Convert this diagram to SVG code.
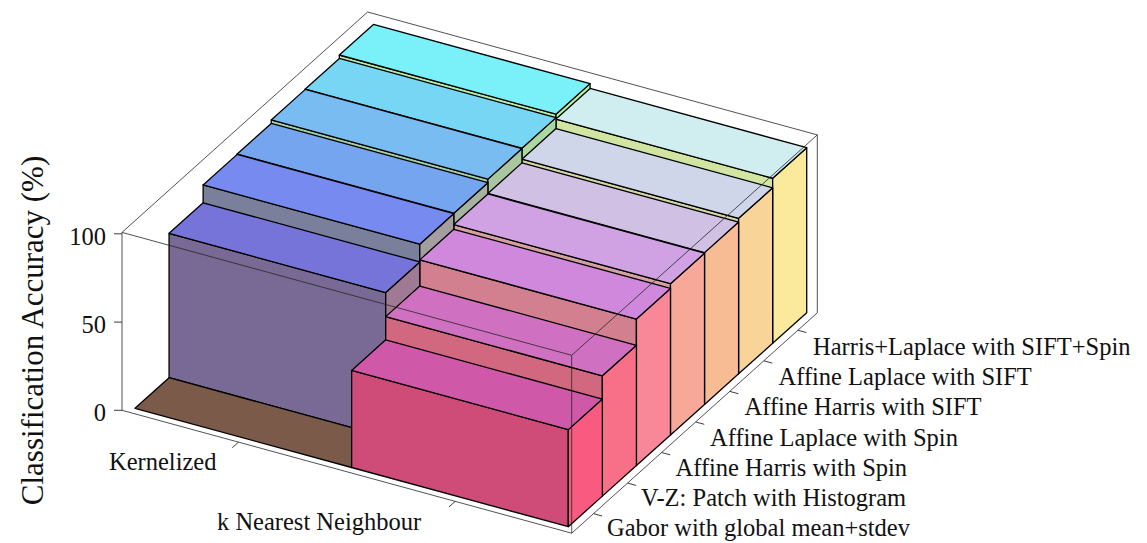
<svg xmlns="http://www.w3.org/2000/svg" width="1147" height="543" viewBox="0 0 1147 543">
<style>
  .f{stroke:#000;stroke-width:1.3;stroke-linejoin:round}
  .bx{fill:none;stroke:#262626;stroke-width:0.8}
  .tk{fill:none;stroke:#262626;stroke-width:0.9}
  .lb{font-family:"Liberation Serif","Times New Roman",serif;font-size:24.5px;fill:#111}
  .tt{font-family:"Liberation Serif","Times New Roman",serif;font-size:31px;fill:#111}
</style>
<rect width="1147" height="543" fill="#fff"/>
<g id="box-back">
  <polyline class="bx" points="122,232.4 367.6,12 817.3,134.9 817.3,312.8"/>
</g>
<g id="bars">
  <g id="bar-k-6">
    <polygon class="f" fill="#b2eeb0" points="339.36,224.88 556.01,284.08 556.01,114.2 339.36,55"/>
    <polygon class="f" fill="#b6f2a6" points="556.01,284.08 590.07,253.51 590.07,83.63 556.01,114.2"/>
    <polygon class="f" fill="#7af1f8" points="339.36,55 556.01,114.2 590.07,83.63 373.42,24.43"/>
  </g>
  <g id="bar-n-6">
    <polygon class="f" fill="#d2e4a2" points="556.01,284.08 772.66,343.28 772.66,178.25 556.01,119.05"/>
    <polygon class="f" fill="#fbea9c" points="772.66,343.28 806.72,312.71 806.72,147.68 772.66,178.25"/>
    <polygon class="f" fill="#d0eef0" points="556.01,119.05 772.66,178.25 806.72,147.68 590.07,88.48"/>
  </g>
  <g id="bar-k-5">
    <polygon class="f" fill="#a6d8ae" points="305.3,255.45 521.95,314.65 521.95,148.21 305.3,89.01"/>
    <polygon class="f" fill="#aad8a2" points="521.95,314.65 556.01,284.08 556.01,117.64 521.95,148.21"/>
    <polygon class="f" fill="#78d6f5" points="305.3,89.01 521.95,148.21 556.01,117.64 339.36,58.44"/>
  </g>
  <g id="bar-n-5">
    <polygon class="f" fill="#d2d6a2" points="521.95,314.65 738.6,373.85 738.6,218.35 521.95,159.15"/>
    <polygon class="f" fill="#f8d498" points="738.6,373.85 772.66,343.28 772.66,187.78 738.6,218.35"/>
    <polygon class="f" fill="#d0d6ea" points="521.95,159.15 738.6,218.35 772.66,187.78 556.01,128.58"/>
  </g>
  <g id="bar-k-4">
    <polygon class="f" fill="#a0d0a8" points="271.24,286.02 487.89,345.22 487.89,179.13 271.24,119.93"/>
    <polygon class="f" fill="#a8c6a0" points="487.89,345.22 521.95,314.65 521.95,148.56 487.89,179.13"/>
    <polygon class="f" fill="#78bcf2" points="271.24,119.93 487.89,179.13 521.95,148.56 305.3,89.36"/>
  </g>
  <g id="bar-n-4">
    <polygon class="f" fill="#d2bca2" points="487.89,345.22 704.54,404.42 704.54,252.63 487.89,193.43"/>
    <polygon class="f" fill="#f8bc94" points="704.54,404.42 738.6,373.85 738.6,222.06 704.54,252.63"/>
    <polygon class="f" fill="#d0c0e4" points="487.89,193.43 704.54,252.63 738.6,222.06 521.95,162.86"/>
  </g>
  <g id="bar-k-3">
    <polygon class="f" fill="#7d9aa6" points="237.18,316.59 453.83,375.79 453.83,213.23 237.18,154.03"/>
    <polygon class="f" fill="#a6b2a0" points="453.83,375.79 487.89,345.22 487.89,182.66 453.83,213.23"/>
    <polygon class="f" fill="#76a5ef" points="237.18,154.03 453.83,213.23 487.89,182.66 271.24,123.46"/>
  </g>
  <g id="bar-n-3">
    <polygon class="f" fill="#d4a0a0" points="453.83,375.79 670.48,434.99 670.48,283.73 453.83,224.53"/>
    <polygon class="f" fill="#f8a898" points="670.48,434.99 704.54,404.42 704.54,253.16 670.48,283.73"/>
    <polygon class="f" fill="#d0a2e4" points="453.83,224.53 670.48,283.73 704.54,253.16 487.89,193.96"/>
  </g>
  <g id="bar-k-2">
    <polygon class="f" fill="#7a809c" points="203.12,347.16 419.77,406.36 419.77,244.16 203.12,184.96"/>
    <polygon class="f" fill="#a49ea0" points="419.77,406.36 453.83,375.79 453.83,213.59 419.77,244.16"/>
    <polygon class="f" fill="#768aef" points="203.12,184.96 419.77,244.16 453.83,213.59 237.18,154.39"/>
  </g>
  <g id="bar-n-2">
    <polygon class="f" fill="#d28090" points="419.77,406.36 636.42,465.56 636.42,319.06 419.77,259.86"/>
    <polygon class="f" fill="#f88898" points="636.42,465.56 670.48,434.99 670.48,288.49 636.42,319.06"/>
    <polygon class="f" fill="#d088dc" points="419.77,259.86 636.42,319.06 670.48,288.49 453.83,229.29"/>
  </g>
  <g id="bar-k-1">
    <polygon class="f" fill="#786a94" points="169.06,377.73 385.71,436.93 385.71,292.55 169.06,233.35"/>
    <polygon class="f" fill="#a07a94" points="385.71,436.93 419.77,406.36 419.77,261.98 385.71,292.55"/>
    <polygon class="f" fill="#7774d9" points="169.06,233.35 385.71,292.55 419.77,261.98 203.12,202.78"/>
  </g>
  <g id="bar-n-1">
    <polygon class="f" fill="#d26880" points="385.71,436.93 602.36,496.13 602.36,375.83 385.71,316.63"/>
    <polygon class="f" fill="#f87088" points="602.36,496.13 636.42,465.56 636.42,345.26 602.36,375.83"/>
    <polygon class="f" fill="#d070c0" points="385.71,316.63 602.36,375.83 636.42,345.26 419.77,286.06"/>
  </g>
  <g id="bar-k-0">
    <polygon class="f" fill="#7b5a4a" points="135,408.3 351.65,467.5 385.71,436.93 169.06,377.73"/>
  </g>
  <g id="bar-n-0">
    <polygon class="f" fill="#d04c78" points="351.65,467.5 568.3,526.7 568.3,429.62 351.65,370.42"/>
    <polygon class="f" fill="#f85a80" points="568.3,526.7 602.36,496.13 602.36,399.05 568.3,429.62"/>
    <polygon class="f" fill="#d058a8" points="351.65,370.42 568.3,429.62 602.36,399.05 385.71,339.85"/>
  </g>
</g>
<g id="box-front">
  <line class="bx" x1="122" y1="410.3" x2="122" y2="232.4"/>
  <line class="bx" x1="122" y1="410.3" x2="571.7" y2="533.2"/>
  <line class="bx" x1="122" y1="232.4" x2="571.7" y2="355.3"/>
  <line class="bx" x1="571.7" y1="533.2" x2="571.7" y2="355.3"/>
  <line class="bx" x1="571.7" y1="533.2" x2="817.3" y2="312.8"/>
  <line class="bx" x1="571.7" y1="355.3" x2="817.3" y2="134.9"/>
</g>
<g id="axis-z">
  <line class="tk" x1="114" y1="410.3" x2="122" y2="410.3"/>
  <line class="tk" x1="114" y1="322.1" x2="122" y2="322.1"/>
  <line class="tk" x1="114" y1="233.8" x2="122" y2="233.8"/>
  <text class="lb" x="106" y="421.3" text-anchor="end">0</text>
  <text class="lb" x="106" y="333" text-anchor="end">50</text>
  <text class="lb" x="106" y="244.8" text-anchor="end">100</text>
  <text class="tt" transform="translate(42.5,330.5) rotate(-90)" text-anchor="middle">Classification Accuracy (%)</text>
</g>
<g id="axis-x">
  <line class="tk" x1="238.5" y1="442.2" x2="232.3" y2="447.7"/>
  <line class="tk" x1="455.2" y1="501.4" x2="449" y2="506.9"/>
  <text class="lb" x="109" y="470">Kernelized</text>
  <text class="lb" x="217" y="530">k Nearest Neighbour</text>
</g>
<g id="axis-depth">
  <line class="tk" x1="593.6" y1="513.7" x2="602.1" y2="516"/>
  <line class="tk" x1="627.66" y1="483.13" x2="636.16" y2="485.43"/>
  <line class="tk" x1="661.72" y1="452.56" x2="670.22" y2="454.86"/>
  <line class="tk" x1="695.78" y1="421.99" x2="704.28" y2="424.29"/>
  <line class="tk" x1="729.84" y1="391.42" x2="738.34" y2="393.72"/>
  <line class="tk" x1="763.9" y1="360.85" x2="772.4" y2="363.15"/>
  <line class="tk" x1="797.96" y1="330.28" x2="806.46" y2="332.58"/>
  <text class="lb" x="607" y="536">Gabor with global mean+stdev</text>
  <text class="lb" x="641" y="505.8">V-Z: Patch with Histogram</text>
  <text class="lb" x="675.5" y="475.7">Affine Harris with Spin</text>
  <text class="lb" x="710" y="445.5">Affine Laplace with Spin</text>
  <text class="lb" x="744.5" y="415.3">Affine Harris with SIFT</text>
  <text class="lb" x="778.5" y="385.2">Affine Laplace with SIFT</text>
  <text class="lb" x="813" y="355">Harris+Laplace with SIFT+Spin</text>
</g>
</svg>
